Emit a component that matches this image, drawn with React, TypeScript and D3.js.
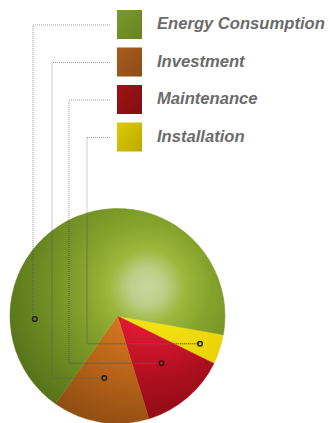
import React from "react";
import * as d3 from "d3";

const categories = ["Energy Consumption", "Investment", "Maintenance", "Installation"];
const values = [68, 14.5, 13, 4.5];
const legendColors = ["#6f8b26", "#98521a", "#8e1012", "#c8b600"];
// radial shading stops per slice: [offset, colour]
const sliceStops: [number, string][][] = [
  [[0, "#c8d69e"], [0.12, "#bccf88"], [0.25, "#9cb83c"], [0.42, "#86a42c"], [0.7, "#6e8c22"], [1, "#56721a"]],
  [[0, "#e08028"], [0.3, "#d47420"], [0.6, "#b86418"], [1, "#8e4c12"]],
  [[0, "#e81c34"], [0.3, "#dc1830"], [0.6, "#b01020"], [1, "#840810"]],
  [[0, "#f8ea20"], [0.3, "#f2e010"], [0.7, "#e8d008"], [1, "#d0b800"]],
];
// label anchor points inside the slices (polar: degrees clockwise from 12 o'clock, fraction of radius)
const markerAngles = [268, 192, 137, 108.6];
const markerRadii = [0.77, 0.59, 0.6, 0.81];
const leaderX = [33, 52, 69, 87];

const W = 330, H = 423;
const cx = 117.5, cy = 316, R = 107.5;
const startDeg = 100;

export default function App() {
  const order = [3, 2, 1, 0];
  const pie = d3
    .pie<number>()
    .sort(null)
    .value((i) => values[i])
    .startAngle((startDeg * Math.PI) / 180)
    .endAngle((startDeg * Math.PI) / 180 + 2 * Math.PI);
  const arcs = pie(order);
  const arc = d3.arc<d3.PieArcDatum<number>>().innerRadius(0).outerRadius(R);

  const legendY = d3.scaleLinear().domain([0, 3]).range([25, 137.5]);

  const markerPos = categories.map((_, i) => {
    const a = (markerAngles[i] * Math.PI) / 180;
    return [cx + Math.sin(a) * markerRadii[i] * R, cy - Math.cos(a) * markerRadii[i] * R];
  });

  const leaderPath = (i: number) => {
    const y0 = legendY(i);
    const [mx, my] = markerPos[i];
    return `M110,${y0}H${leaderX[i]}V${my}H${mx}`;
  };

  return (
    <svg width={W} height={H} style={{ position: "absolute", left: 0, top: 0, background: "#fff" }}>
      <defs>
        {categories.map((_, i) => (
          <radialGradient key={i} id={`g${i}`} gradientUnits="userSpaceOnUse" cx={29.5} cy={-29} r={150}>
            {sliceStops[i].map(([o, c], k) => (
              <stop key={k} offset={o} stopColor={c} />
            ))}
          </radialGradient>
        ))}
        {categories.map((_, i) => (
          <linearGradient key={i} id={`l${i}`} x1="0" y1="0" x2="1" y2="1">
            <stop offset="0" stopColor={d3.color(legendColors[i])!.brighter(0.3).toString()} />
            <stop offset="1" stopColor={d3.color(legendColors[i])!.darker(0.2).toString()} />
          </linearGradient>
        ))}
        <clipPath id="pieClip">
          <circle cx={cx} cy={cy} r={R} />
        </clipPath>
      </defs>

      <g transform={`translate(${cx},${cy})`}>
        {arcs.map((a) => (
          <path key={a.data} d={arc(a)!} fill={`url(#g${a.data})`} stroke={`url(#g${a.data})`} strokeWidth={0.5} />
        ))}
      </g>

      {categories.map((_, i) => (
        <path key={i} d={leaderPath(i)} fill="none" stroke="#9a9a9a" strokeWidth={1} strokeDasharray="1 1" />
      ))}
      <g clipPath="url(#pieClip)">
        {categories.map((_, i) => (
          <path key={i} d={leaderPath(i)} fill="none" stroke="#2a2a10" strokeOpacity={0.7} strokeWidth={1} strokeDasharray="1 1" />
        ))}
      </g>
      {markerPos.map(([x, y], i) => (
        <circle key={i} cx={x} cy={y} r={2.3} fill="none" stroke="#1e1e0c" strokeWidth={1.4} />
      ))}

      {categories.map((c, i) => (
        <g key={c}>
          <rect x={117} y={legendY(i) - 15} width={25} height={29} fill={`url(#l${i})`} />
          <text
            x={157}
            y={legendY(i) + 4.3}
            fontFamily="Liberation Sans, Arial, sans-serif"
            fontWeight="bold"
            fontStyle="italic"
            fontSize={16.6}
            fill="#6b6b6b"
          >
            {c}
          </text>
        </g>
      ))}
    </svg>
  );
}
